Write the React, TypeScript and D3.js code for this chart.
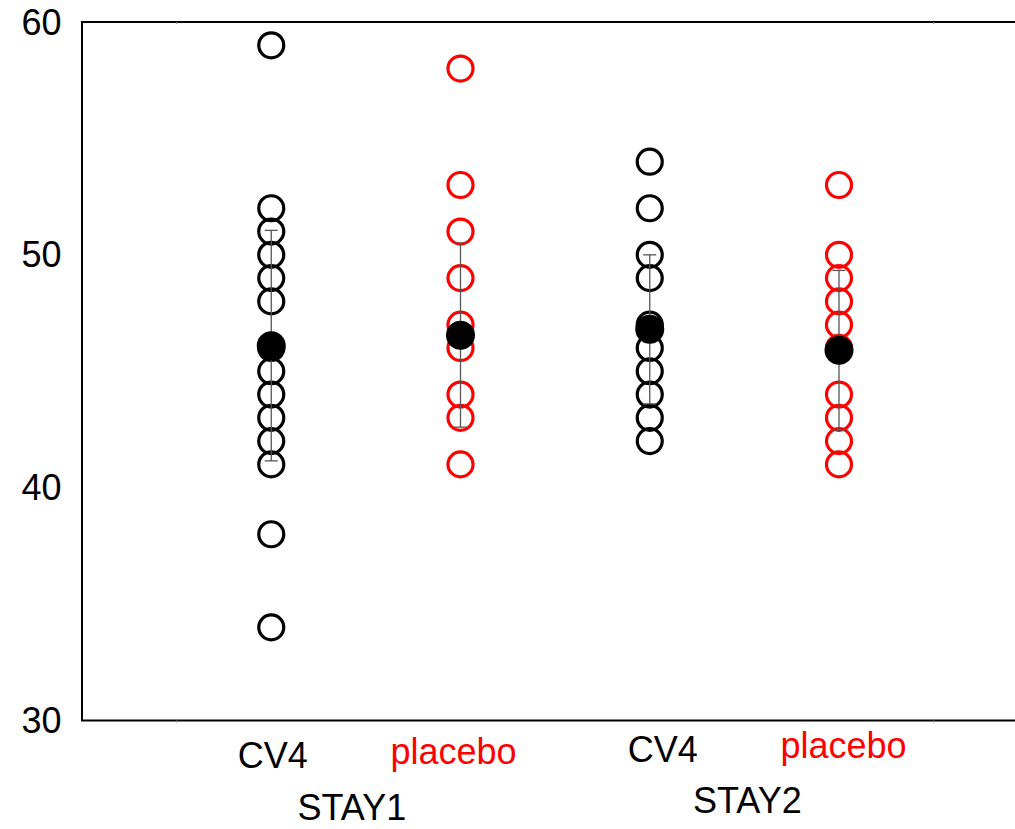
import React, { useEffect, useRef } from 'react';
import * as d3 from 'd3';

// values
const groups = ['STAY1', 'STAY2'];
const categories = ['CV4', 'placebo', 'CV4', 'placebo'];
const cv4Stay1 = [59, 52, 51, 50, 49, 48, 46, 45, 44, 43, 42, 41, 38, 34];
const placeboStay1 = [58, 53, 51, 49, 47, 46, 44, 43, 41];
const cv4Stay2 = [54, 52, 50, 49, 47, 46, 45, 44, 43, 42];
const placeboStay2 = [53, 50, 49, 48, 47, 46, 44, 43, 42, 41];
const means = [46.1, 46.55, 46.8, 45.9];
const sds = [4.95, 3.95, 3.2, 3.43];
const yTicks = [30, 40, 50, 60];

const series = [cv4Stay1, placeboStay1, cv4Stay2, placeboStay2];
const colors = ['#000000', '#ff0000', '#000000', '#ff0000'];

const App = () => {
    const svgRef = useRef<SVGSVGElement>(null);

    useEffect(() => {
        const width = 1015;
        const height = 829;
        const font = '"Liberation Sans", Arial, sans-serif';

        const svg = d3.select(svgRef.current)
            .attr('width', width)
            .attr('height', height);
        svg.selectAll('*').remove();

        const x = d3.scaleLinear().domain([0, 5]).range([82, 1028.25]);
        const y = d3.scaleLinear().domain([30, 60]).range([720.5, 22]);

        // frame: left axis, bottom axis, top line
        svg.append('path')
            .attr('d', `M${width},${y(60)}H${x(0)}V${y(30)}H${width}`)
            .attr('fill', 'none')
            .attr('stroke', '#000')
            .attr('stroke-width', 2);

        // faint category ticks
        [0.5, 4.5].forEach(t => {
            [y(60), y(30)].forEach(yy => {
                svg.append('line')
                    .attr('x1', x(t)).attr('x2', x(t))
                    .attr('y1', yy).attr('y2', yy + 2)
                    .attr('stroke', '#888').attr('stroke-width', 1);
            });
        });

        // y tick labels
        svg.append('g')
            .selectAll('text')
            .data(yTicks)
            .enter()
            .append('text')
            .attr('x', 61.5)
            .attr('y', d => y(d))
            .attr('dy', '0.35em')
            .attr('text-anchor', 'end')
            .style('font-family', font)
            .style('font-size', '36px')
            .text(d => d);

        // individual points
        series.forEach((vals, i) => {
            svg.append('g')
                .selectAll('circle')
                .data(vals)
                .enter()
                .append('circle')
                .attr('cx', x(i + 1))
                .attr('cy', d => y(d))
                .attr('r', 12.5)
                .attr('fill', 'none')
                .attr('stroke', colors[i])
                .attr('stroke-width', 3.2);
        });

        // error bars (mean ± sd)
        means.forEach((m, i) => {
            const cx = x(i + 1);
            const g = svg.append('g')
                .attr('stroke', '#555')
                .attr('stroke-width', 1.3);
            g.append('line')
                .attr('x1', cx).attr('x2', cx)
                .attr('y1', y(m + sds[i])).attr('y2', y(m - sds[i]));
            [m + sds[i], m - sds[i]].forEach(v => {
                g.append('line')
                    .attr('x1', cx - 6.5).attr('x2', cx + 6.5)
                    .attr('y1', y(v)).attr('y2', y(v));
            });
        });

        // means
        svg.append('g')
            .selectAll('circle')
            .data(means)
            .enter()
            .append('circle')
            .attr('cx', (d, i) => x(i + 1))
            .attr('cy', d => y(d))
            .attr('r', 14.5)
            .attr('fill', '#000');

        // category labels
        const labelDx = [1.5, -7, 13, 4.5];
        const labelBaseline = [768, 764, 762, 758];
        categories.forEach((c, i) => {
            svg.append('text')
                .attr('x', x(i + 1) + labelDx[i])
                .attr('y', labelBaseline[i])
                .attr('text-anchor', 'middle')
                .style('font-family', font)
                .style('font-size', '36px')
                .style('fill', c === 'placebo' ? '#ff0000' : '#000')
                .text(c);
        });

        // group labels
        const groupDx = [-14, 3];
        const groupBaseline = [820, 813];
        groups.forEach((gname, i) => {
            svg.append('text')
                .attr('x', (x(2 * i + 1) + x(2 * i + 2)) / 2 + groupDx[i])
                .attr('y', groupBaseline[i])
                .attr('text-anchor', 'middle')
                .style('font-family', font)
                .style('font-size', '36px')
                .text(gname);
        });
    }, []);

    return <svg ref={svgRef} style={{ position: 'absolute', left: 0, top: 0 }}></svg>;
};

export default App;
